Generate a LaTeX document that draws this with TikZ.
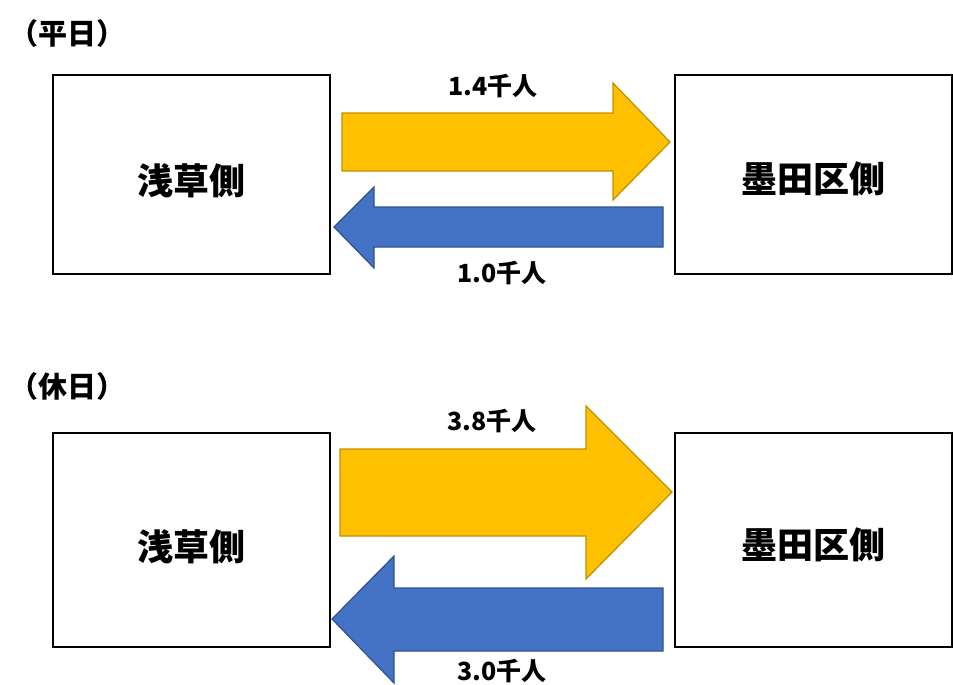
\documentclass[tikz,border=0pt]{standalone}
\usepackage{fontspec}
\setmainfont{Noto Sans CJK JP}
\definecolor{arrY}{HTML}{FFC000}
\definecolor{arrYd}{HTML}{BF9000}
\definecolor{arrB}{HTML}{4472C4}
\definecolor{arrBd}{HTML}{2F528F}
\tikzset{
  areabox/.style={draw=black, line width=1.3pt, fill=white, minimum width=277pt, minimum height=199pt, inner sep=0pt},
  areatext/.style={font=\fontsize{36}{42}\selectfont\bfseries, inner sep=0pt},
  flowtext/.style={font=\fontsize{25}{30}\selectfont\bfseries, inner sep=0pt},
  titletext/.style={font=\fontsize{29}{33}\selectfont\bfseries, inner sep=0pt, anchor=west},
  yarrow/.style={fill=arrY, draw=arrYd, line width=1.2pt, line join=miter},
  barrow/.style={fill=arrB, draw=arrBd, line width=1.2pt, line join=miter}
}
\begin{document}
\begin{tikzpicture}[x=1pt, y=-1pt]
\useasboundingbox (0,0) rectangle (953,685);
% weekday
\node[titletext] (t1) at (9,33) {（平日）};
\node[areabox] (a1) at (191.5,174.5) {};
\node[areabox] (s1) at (813.5,174.5) {};
\node[areatext] (a1t) at (191.5,181) {浅草側};
\node[areatext] (s1t) at (813.5,179) {墨田区側};
\draw[yarrow] (342,113) -- (613,113) -- (613,83) -- (670,142) -- (613,200) -- (613,171) -- (342,171) -- cycle;
\draw[barrow] (663,207) -- (374,207) -- (374,187) -- (334,227) -- (374,268) -- (374,247) -- (663,247) -- cycle;
\node[flowtext] (f1) at (493,86) {1.4千人};
\node[flowtext] (f2) at (502,273) {1.0千人};
% holiday
\node[titletext] (t2) at (9,386) {（休日）};
\node[areabox, minimum height=214pt] (a2) at (191.5,540) {};
\node[areabox, minimum height=214pt] (s2) at (813.5,540) {};
\node[areatext] (a2t) at (191.5,547) {浅草側};
\node[areatext] (s2t) at (813.5,545) {墨田区側};
\draw[yarrow] (340,449) -- (586,449) -- (586,406) -- (672,492) -- (586,579) -- (586,536) -- (340,536) -- cycle;
\draw[barrow] (663,588) -- (394,588) -- (394,556) -- (332,619) -- (394,683) -- (394,651) -- (663,651) -- cycle;
\node[flowtext] (f3) at (492,421) {3.8千人};
\node[flowtext] (f4) at (502,671) {3.0千人};
\end{tikzpicture}
\end{document}
